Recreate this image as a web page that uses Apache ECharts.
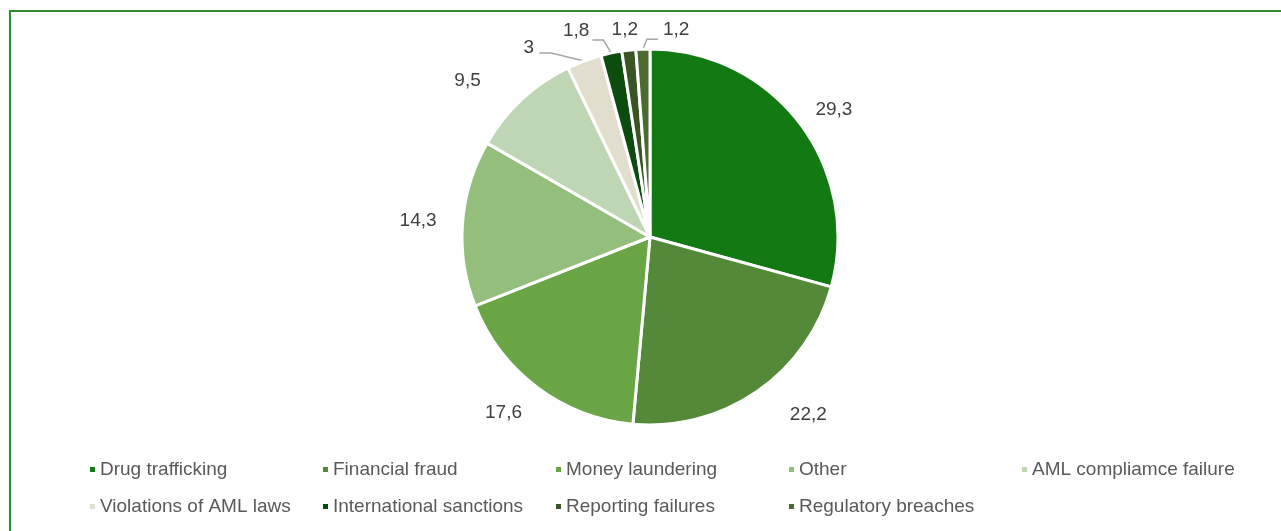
<!DOCTYPE html>
<html>
<head>
<meta charset="utf-8">
<script src="https://cdn.jsdelivr.net/npm/echarts@6/dist/echarts.min.js"></script>
<style>
html,body{margin:0;padding:0;background:#fff;}
#frame{position:absolute;left:9px;top:10px;width:1400px;height:700px;border-left:2px solid #2E8B2E;border-top:2px solid #2E8B2E;}
#chart{position:absolute;left:0;top:0;width:1281px;height:531px;}
</style>
</head>
<body>
<div id="frame"></div>
<div id="chart"></div>
<script>
const categories = ['Drug trafficking','Financial fraud','Money laundering','Other','AML compliamce failure','Violations of AML laws','International sanctions','Reporting failures','Regulatory breaches'];
const values = [29.3, 22.2, 17.6, 14.3, 9.5, 3, 1.8, 1.2, 1.2];
const colors = ['#137A13','#54893A','#6AA545','#93BE7C','#BFD6B4','#E1DECD','#0C4C0E','#3A5424','#4C6B30'];

// label placement style per slice (offsets from the slice edge point)
// big slices: [length, length2, dx, dy]
const bigLabelStyle = [[20,0,-5,-1],[26,10,3,2],[27,0,6,4],[12,8,-1,-1],[28,13,-4,2]];
// small slices: line bend offsets, label anchor offsets, align
const smallLabelStyle = {
  5:{bend:[-33,-8], end:[-45,-8], text:[-50,-13], align:'right', line:true},
  6:{bend:[-8,-13], end:[-19,-13], text:[-22,-22], align:'right', line:true},
  7:{text:[-4,-20], align:'center', line:false},
  8:{bend:[4,-10], end:[15,-10], text:[20,-19], align:'left', line:true}
};

const chart = echarts.init(document.getElementById('chart'));
const FONT = 'Liberation Sans';
const legendLeft = [88,321,554,787,1020,88,321,554,787];
const legendTop = [460,460,460,460,460,497,497,497,497];
const legends = categories.map((c,i)=>({
  data:[c], left:legendLeft[i], top:legendTop[i], padding:0, icon:'rect', itemWidth:7, itemHeight:7, itemGap:0,
  textStyle:{fontFamily:FONT,fontSize:19,color:'#595959',padding:[0,0,0,-1]}, selectedMode:false
}));
chart.setOption({
  animation:false,
  color:colors,
  legend:legends,
  series:[{
    type:'pie',
    center:[650,237],
    radius:[0,188],
    startAngle:90,
    clockwise:true,
    avoidLabelOverlap:false,
    itemStyle:{borderColor:'#fff',borderWidth:3},
    label:{show:true,position:'outside',fontFamily:FONT,fontSize:19,color:'#404040',
      formatter:p=>String(p.value).replace('.',',')},
    labelLine:{lineStyle:{color:'#A6A6A6',width:1.5}},
    labelLayout:function(p){
      const i = p.dataIndex;
      if (i < bigLabelStyle.length) {
        return {dx:bigLabelStyle[i][2], dy:bigLabelStyle[i][3]};
      }
      const s = smallLabelStyle[i];
      const p0 = p.labelLinePoints[0];
      const res = {x:p0[0]+s.text[0], y:p0[1]+s.text[1], align:s.align, verticalAlign:'middle'};
      if (s.line) {
        res.labelLinePoints = [[p0[0],p0[1]],[p0[0]+s.bend[0],p0[1]+s.bend[1]],[p0[0]+s.end[0],p0[1]+s.end[1]]];
      }
      return res;
    },
    data:values.map((v,i)=>{
      const big = i < bigLabelStyle.length;
      return {name:categories[i],value:v,
        labelLine: big ? {show:false,length:bigLabelStyle[i][0],length2:bigLabelStyle[i][1]}
                       : {show:smallLabelStyle[i].line,length:8,length2:8}};
    })
  }]
});
</script>
</body>
</html>
